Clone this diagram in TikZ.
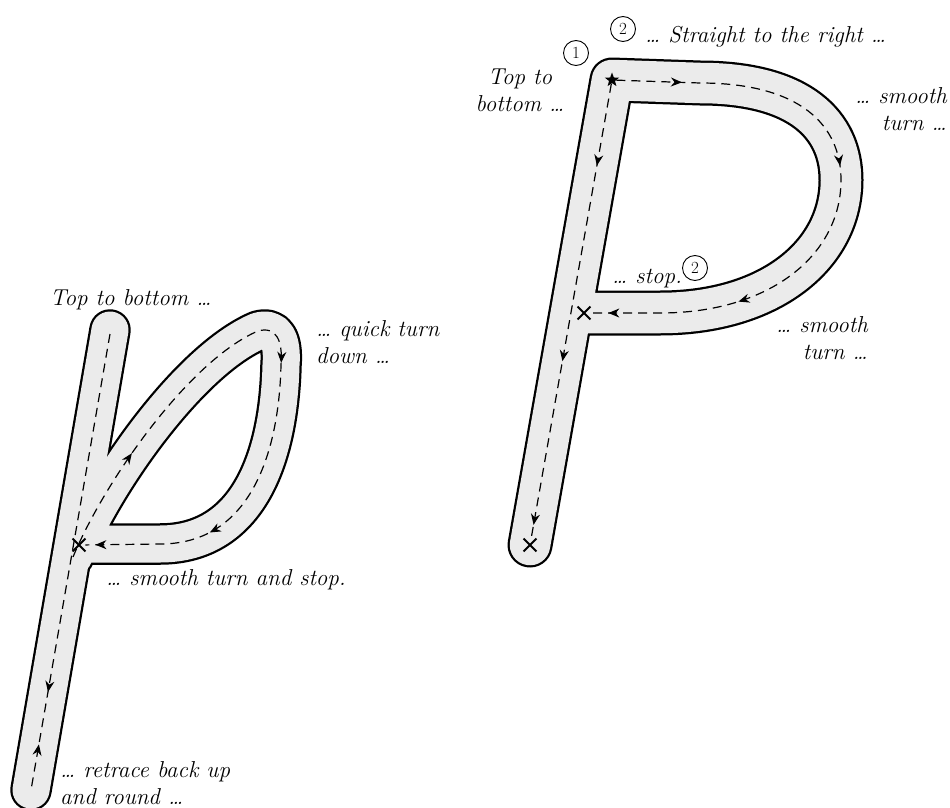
\documentclass[tikz,border=0pt]{standalone}
\usepackage{fontspec}
\usetikzlibrary{arrows.meta,decorations.markings,shapes.geometric,shapes.misc}
\definecolor{strokegray}{HTML}{EBEBEB}

\tikzset{
  letterout/.style={draw=black,line width=#1,line cap=round,line join=round},
  letterin/.style={draw=strokegray,line width=#1,line cap=round,line join=round},
  guide/.style={draw,line width=1.2pt,dash pattern=on 9pt off 6pt},
  tipat/.style={postaction={decorate,decoration={markings,
      mark=at position #1 with {\arrow{Stealth[length=11pt,width=9pt]}}}}},
  tipback/.style={postaction={decorate,decoration={markings,
      mark=at position #1 with {\arrowreversed{Stealth[length=11pt,width=9pt]}}}}},
  hand/.style={font=\fontsize{23}{27}\selectfont\itshape,inner sep=0pt},
  numcirc/.style={circle,draw,line width=0.9pt,inner sep=0pt,minimum size=25pt,
      font=\fontsize{17}{17}\selectfont},
  xmark/.style={cross out,draw,line width=1.9pt,minimum size=11pt,inner sep=0pt},
  startstar/.style={star,star points=5,star point ratio=2.4,fill,minimum size=15pt,inner sep=0pt}
}

\begin{document}
\begin{tikzpicture}[x=1pt,y=-1pt]
\useasboundingbox (0,0) rectangle (950,808);

% cursive p on the left
\coordinate (ptop) at (110,334);
\coordinate (pbot) at (31,790);
\coordinate (pfork) at (73,557);
\draw[letterout=41.5] (110,330) -- (31,790);
\draw[letterout=41.5] (74,556) .. controls (105,480) and (190,360) .. (258,331)
  .. controls (276,326) and (283,340) .. (281,365)
  .. controls (279,450) and (252,544) .. (160,544) -- (79,544);
\draw[letterin=37] (110,330) -- (31,790);
\draw[letterin=37] (74,556) .. controls (105,480) and (190,360) .. (258,331)
  .. controls (276,326) and (283,340) .. (281,365)
  .. controls (279,450) and (252,544) .. (160,544) -- (79,544);
\node[xmark] (xleft) at (79,545) {};
\draw[guide,tipat=0.785,tipback=0.9] (ptop) -- (pbot);
\draw[guide,tipat=0.18,tipat=0.52,tipat=0.81,tipat=0.985] (pfork)
  .. controls (105,480) and (190,360) .. (258,331)
  .. controls (276,326) and (283,340) .. (281,365)
  .. controls (279,450) and (252,544) .. (160,544) -- (xleft);

\node[hand,anchor=base west] (ltop) at (50,305) {Top to bottom \dots};
\node[hand,anchor=north west,align=left] (lquick) at (316,320) {\dots\ quick turn\\down \dots};
\node[hand,anchor=base west] (lsmooth) at (106,585) {\dots\ smooth turn and stop.};
\node[hand,anchor=north west,align=left] (lretrace) at (60,761) {\dots\ retrace back up\\and round \dots};

% print P on the right
\draw[letterout=45] (530,545) -- (612,80) -- (700,83)
  .. controls (800,83) and (841,125) .. (841,180)
  .. controls (841,255) and (770,313) .. (660,313) -- (585,313);
\draw[letterin=40.5] (530,545) -- (612,80) -- (700,83)
  .. controls (800,83) and (841,125) .. (841,180)
  .. controls (841,255) and (770,313) .. (660,313) -- (585,313);
\node[startstar] (star) at (612,80) {};
\node[xmark] (xmid) at (584,313) {};
\node[xmark] (xbot) at (530,545) {};
\draw[guide,tipat=0.18,tipat=0.61,tipat=0.97] (star) -- (xbot);
\draw[guide,tipat=0.11,tipat=0.44,tipat=0.75,tipat=0.97] (star) -- (700,83)
  .. controls (800,83) and (841,125) .. (841,180)
  .. controls (841,255) and (770,313) .. (660,313) -- (xmid);

\node[numcirc] (one) at (576,53) {1};
\node[numcirc] (two) at (623,29) {2};
\node[hand,anchor=base west] (rstraight) at (645,43) {\dots\ Straight to the right \dots};
\node[hand,anchor=north,align=center] (rtop) at (520,69) {Top to\\bottom \dots};
\node[hand,anchor=north east,align=right] (rsmooth) at (947,87) {\dots\ smooth\\turn \dots};
\node[hand,anchor=base west] (rstop) at (612,283) {\dots\ stop.};
\node[numcirc] (twob) at (695,268) {2};
\node[hand,anchor=north east,align=right] (rsmoothb) at (868,316) {\dots\ smooth\\turn \dots};
\end{tikzpicture}
\end{document}
